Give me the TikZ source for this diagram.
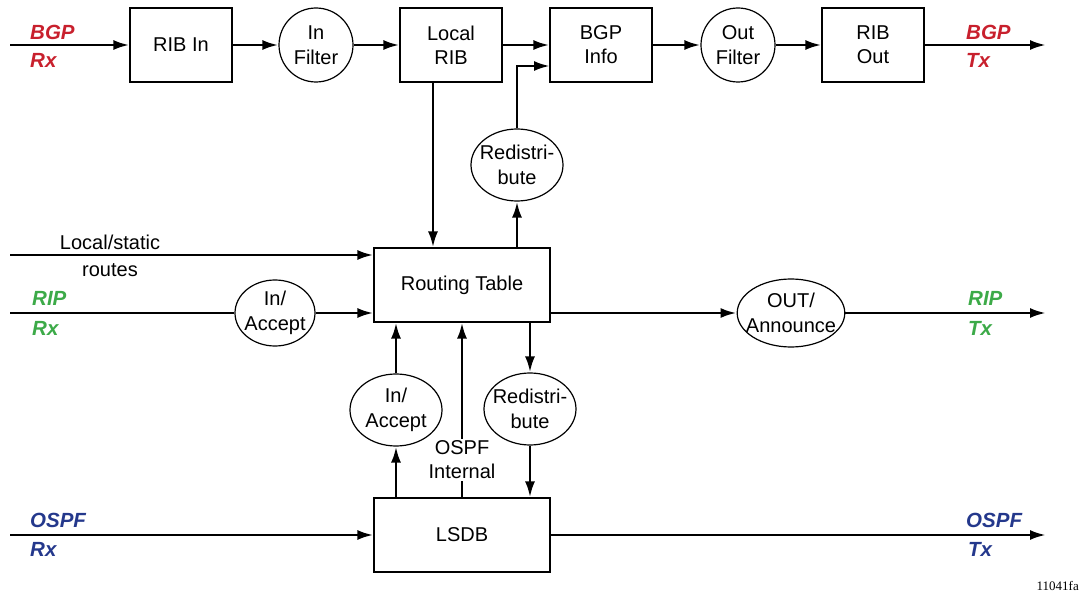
\documentclass[tikz,border=0pt]{standalone}
\usepackage{fontspec}
\setmainfont{Liberation Sans}
\newfontfamily\figfont{Liberation Serif}
\usetikzlibrary{arrows.meta,shapes.geometric}
\definecolor{bgpred}{RGB}{200,32,45}
\definecolor{ripgreen}{RGB}{60,170,72}
\definecolor{ospfblue}{RGB}{36,56,140}

\begin{document}
\begin{tikzpicture}[
    x=1pt, y=-1pt,
    box/.style={rectangle, draw=black, line width=1.2pt, fill=white,
        minimum width=102pt, minimum height=74pt, inner sep=0pt,
        align=center, font=\fontsize{20}{24}\selectfont},
    wide/.style={box, minimum width=176pt},
    circ/.style={circle, draw=black, line width=1.2pt, fill=white,
        minimum size=74pt, inner sep=0pt, align=center,
        font=\fontsize{20}{25}\selectfont},
    oval/.style={ellipse, draw=black, line width=1.2pt, fill=white,
        minimum width=92pt, minimum height=72pt, inner xsep=-7pt, inner ysep=0pt,
        align=center, font=\fontsize{20}{25}\selectfont},
    plain/.style={align=center, inner sep=2pt, font=\fontsize{20}{24}\selectfont},
    tag/.style={anchor=west, inner sep=0pt,
        font=\fontsize{20.5}{24}\selectfont\bfseries\itshape},
    edge/.style={line width=2.7pt, -{Latex[length=16pt,width=10pt]}},
    line/.style={line width=2.7pt}
]
    \useasboundingbox (0,0) rectangle (1080,607);

    \node[box] (ribin) at (181,45) {RIB In};
    \node[circ] (infilter) at (316,45) {In\\Filter};
    \node[box] (localrib) at (451,45) {Local\\RIB};
    \node[box] (bgpinfo) at (601,45) {BGP\\Info};
    \node[circ] (outfilter) at (738,45) {Out\\Filter};
    \node[box] (ribout) at (873,45) {RIB\\Out};
    \node[oval] (redistup) at (517,165) {Redistri-\\bute};
    \node[wide] (rt) at (462,285) {Routing Table};
    \node[oval, minimum width=80pt, minimum height=66pt] (ripin) at (275,313) {In/\\Accept};
    \node[oval, minimum width=106pt, minimum height=68pt] (ripout) at (791,313) {OUT/\\Announce};
    \node[oval] (ospfin) at (396,410) {In/\\Accept};
    \node[oval] (redistdown) at (530,409) {Redistri-\\bute};
    \node[plain] (internal) at (462,460) {OSPF\\Internal};
    \node[wide] (lsdb) at (462,535) {LSDB};

    \node[plain] (localtxt) at (110,242) {Local/static};
    \node[plain] (routestxt) at (110,270) {routes};

    \node[tag, text=bgpred] (bgp1) at (30,32) {BGP};
    \node[tag, text=bgpred] (rx1) at (30,60) {Rx};
    \node[tag, text=bgpred] (bgp2) at (966,32) {BGP};
    \node[tag, text=bgpred] (tx1) at (966,60) {Tx};
    \node[tag, text=ripgreen] (rip1) at (32,298) {RIP};
    \node[tag, text=ripgreen] (rx2) at (32,328) {Rx};
    \node[tag, text=ripgreen] (rip2) at (968,298) {RIP};
    \node[tag, text=ripgreen] (tx2) at (968,328) {Tx};
    \node[tag, text=ospfblue] (ospf1) at (30,520) {OSPF};
    \node[tag, text=ospfblue] (rx3) at (30,549) {Rx};
    \node[tag, text=ospfblue] (ospf2) at (966,520) {OSPF};
    \node[tag, text=ospfblue] (tx3) at (968,549) {Tx};

    \node[anchor=east, inner sep=0pt, font=\figfont\fontsize{13}{15}\selectfont]
        (figno) at (1079,586) {11041fa};

    \coordinate (bgprx) at (10,45);
    \coordinate (bgptx) at (1046,45);
    \coordinate (bgpinfo2) at (550,66);
    \coordinate (localin) at (10,255);
    \coordinate (riprx) at (10,313);
    \coordinate (riptx) at (1046,313);
    \coordinate (ospfrx) at (10,535);
    \coordinate (ospftx) at (1046,535);

    \draw[edge] (bgprx) -- (ribin);
    \draw[edge] (ribin) -- (infilter);
    \draw[edge] (infilter) -- (localrib);
    \draw[edge] (localrib) -- (bgpinfo);
    \draw[edge] (bgpinfo) -- (outfilter);
    \draw[edge] (outfilter) -- (ribout);
    \draw[edge] (ribout) -- (bgptx);
    \draw[edge] ([xshift=-18pt]localrib.south) -- ([xshift=-29pt]rt.north);
    \draw[edge] ([xshift=55pt]rt.north) -- (redistup);
    \draw[edge] (redistup) |- (bgpinfo2);
    \draw[edge] (localin) -- (localin -| rt.west);
    \draw[line] (riprx) -- (ripin);
    \draw[edge] (ripin) -- (ripin -| rt.west);
    \draw[edge] (rt.east |- ripout) -- (ripout);
    \draw[edge] (ripout) -- (riptx);
    \draw[edge] (lsdb.north -| ospfin) -- (ospfin);
    \draw[edge] (ospfin) -- (rt.south -| ospfin);
    \draw[edge] (internal) -- (rt.south);
    \draw[line] (lsdb.north) -- (internal);
    \draw[edge] (rt.south -| redistdown) -- (redistdown);
    \draw[edge] (redistdown) -- (lsdb.north -| redistdown);
    \draw[edge] (ospfrx) -- (lsdb);
    \draw[edge] (lsdb) -- (ospftx);
\end{tikzpicture}
\end{document}
